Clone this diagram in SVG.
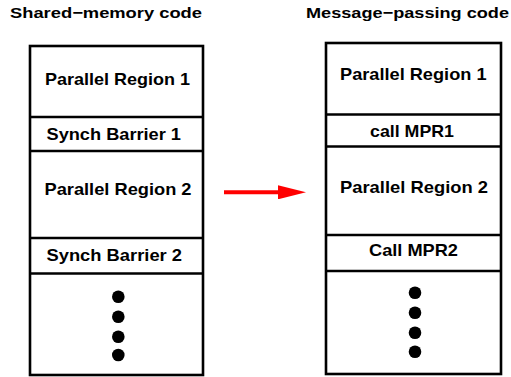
<svg xmlns="http://www.w3.org/2000/svg" width="511" height="377" viewBox="0 0 511 377">
<style>
.box{fill:#fff;stroke:#000;stroke-width:2.6}
.div{stroke:#000;stroke-width:2.6}
.t{font-family:"Liberation Sans",Arial,sans-serif;font-weight:bold;font-size:17px;fill:#000}
.title{font-family:"Liberation Sans",Arial,sans-serif;font-weight:bold;font-size:15.5px;fill:#000}
.dot{fill:#000}
</style>
<defs>
<marker id="ah" viewBox="0 0 28 14" refX="0" refY="7" markerWidth="28" markerHeight="14" markerUnits="userSpaceOnUse" orient="auto">
<path d="M0,0 L28,7 L0,14 Z" fill="#ff0000"/>
</marker>
</defs>
<rect width="511" height="377" fill="#fff"/>
<text class="title" x="10" y="18" textLength="192" lengthAdjust="spacingAndGlyphs">Shared−memory code</text>
<text class="title" x="306" y="18" textLength="203" lengthAdjust="spacingAndGlyphs">Message−passing code</text>
<g id="shared-memory">
<rect class="box" x="30" y="46" width="173" height="329"/>
<line class="div" x1="30" y1="117" x2="203" y2="117"/>
<line class="div" x1="30" y1="151" x2="203" y2="151"/>
<line class="div" x1="30" y1="238" x2="203" y2="238"/>
<line class="div" x1="30" y1="273.5" x2="203" y2="273.5"/>
<text class="t" x="45" y="85" textLength="145" lengthAdjust="spacingAndGlyphs">Parallel Region 1</text>
<text class="t" x="46.5" y="140" textLength="134.5" lengthAdjust="spacingAndGlyphs">Synch Barrier 1</text>
<text class="t" x="44.5" y="195" textLength="147" lengthAdjust="spacingAndGlyphs">Parallel Region 2</text>
<text class="t" x="46.5" y="260.5" textLength="135.5" lengthAdjust="spacingAndGlyphs">Synch Barrier 2</text>
<circle class="dot" cx="118.3" cy="296.7" r="6.3"/>
<circle class="dot" cx="118.3" cy="316.7" r="6.3"/>
<circle class="dot" cx="118.3" cy="336.7" r="6.3"/>
<circle class="dot" cx="118.3" cy="355" r="6.3"/>
</g>
<g id="message-passing">
<rect class="box" x="326" y="43" width="175" height="331"/>
<line class="div" x1="326" y1="114.5" x2="501" y2="114.5"/>
<line class="div" x1="326" y1="146.5" x2="501" y2="146.5"/>
<line class="div" x1="326" y1="235" x2="501" y2="235"/>
<line class="div" x1="326" y1="271" x2="501" y2="271"/>
<text class="t" x="340" y="80" textLength="146.5" lengthAdjust="spacingAndGlyphs">Parallel Region 1</text>
<text class="t" x="370" y="136.5" textLength="84" lengthAdjust="spacingAndGlyphs">call MPR1</text>
<text class="t" x="340" y="193" textLength="148" lengthAdjust="spacingAndGlyphs">Parallel Region 2</text>
<text class="t" x="369" y="256" textLength="89" lengthAdjust="spacingAndGlyphs">Call MPR2</text>
<circle class="dot" cx="415" cy="292.7" r="6.3"/>
<circle class="dot" cx="415" cy="312.7" r="6.3"/>
<circle class="dot" cx="415" cy="332.7" r="6.3"/>
<circle class="dot" cx="415" cy="351.7" r="6.3"/>
</g>
<g id="connectors">
<line x1="224" y1="192.3" x2="278" y2="192.3" stroke="#ff0000" stroke-width="4" marker-end="url(#ah)"/>
</g>
</svg>
